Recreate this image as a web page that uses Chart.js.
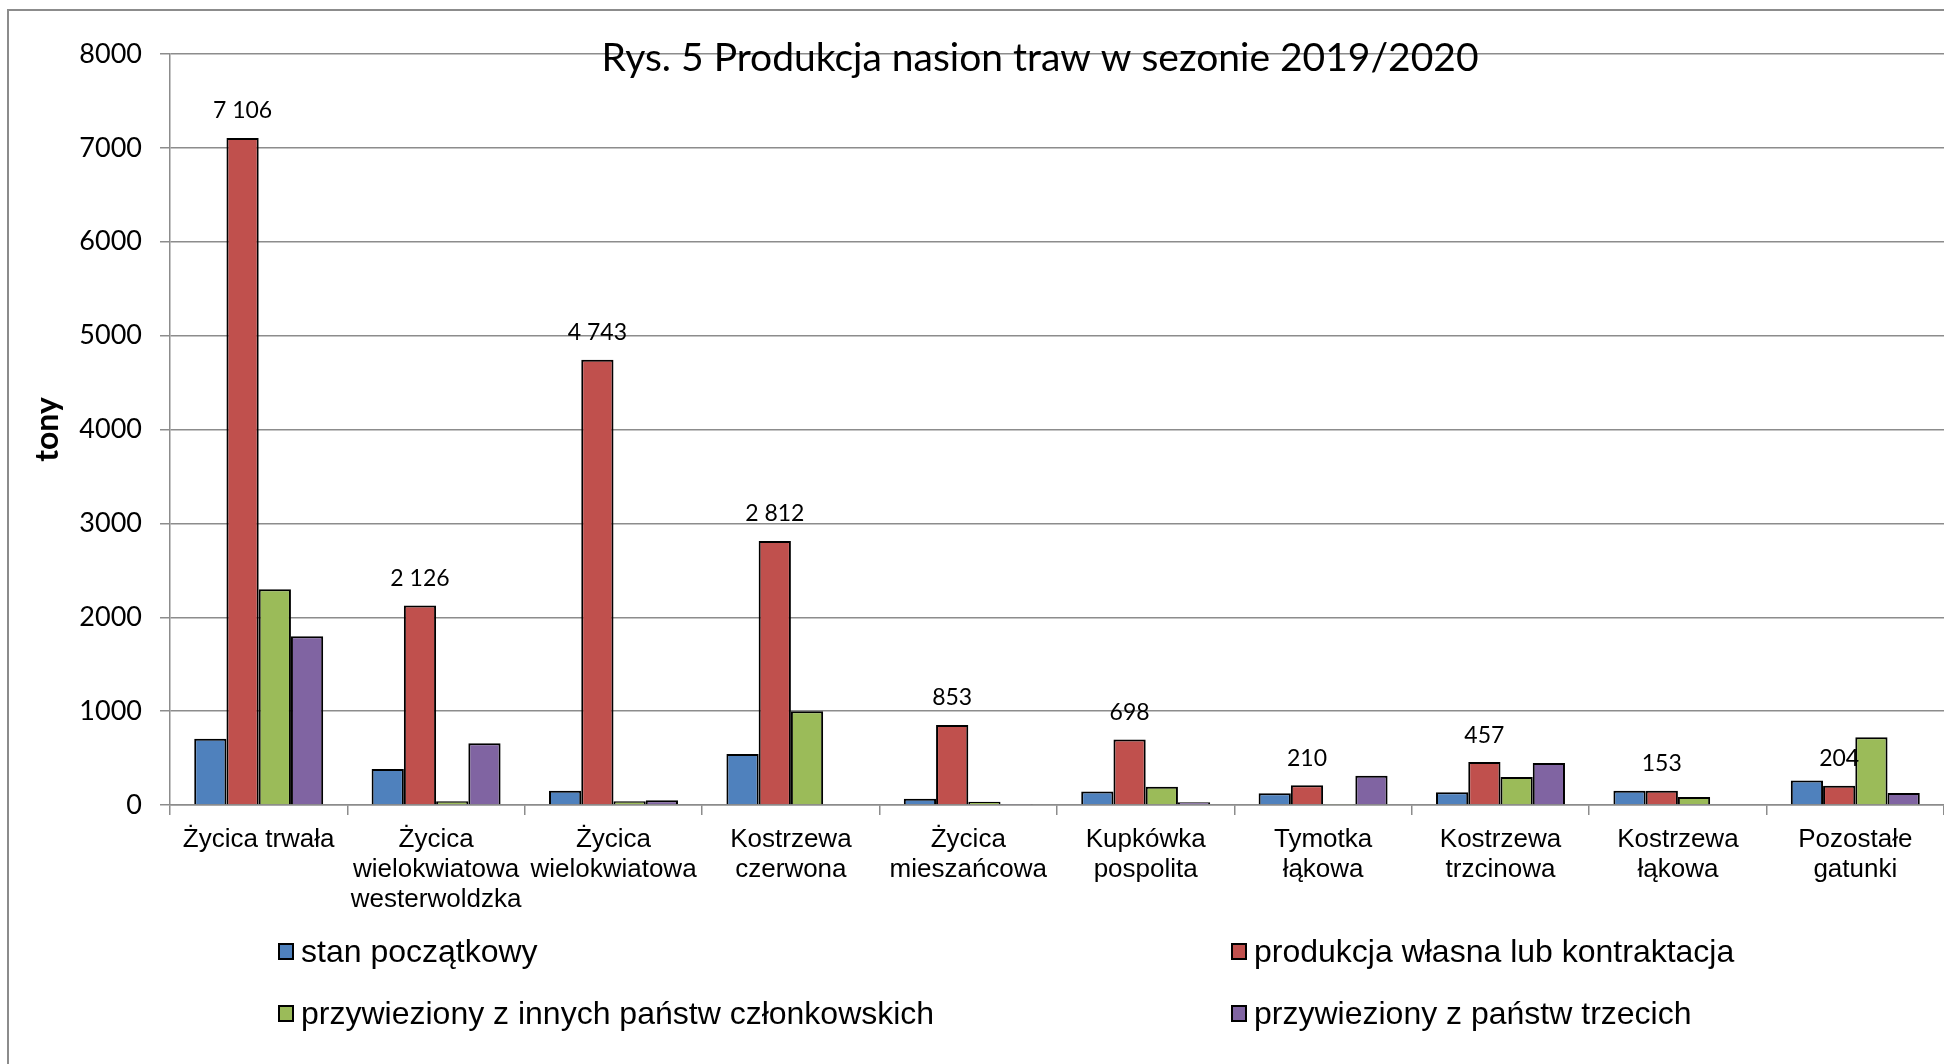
<!DOCTYPE html>
<html lang="pl">
<head>
<meta charset="utf-8">
<title>Produkcja nasion traw 2019/2020</title>
<script src="https://cdn.jsdelivr.net/npm/chart.js@4.4.1/dist/chart.umd.min.js"></script>
<style>
  html, body { margin: 0; padding: 0; background: #fff; }
  #wrap { position: relative; width: 1944px; height: 1064px; overflow: hidden; background: #fff; }
  #frame { position: absolute; left: 7px; top: 9px; width: 3000px; height: 3000px;
           border: 2px solid #8c8c8c; box-sizing: border-box; }
  #myChart { position: absolute; left: 0; top: 0; }
  #legend { position: absolute; left: 278px; top: 931px; display: grid;
            grid-template-columns: 953px auto; row-gap: 22px;
            font: 32px "Liberation Sans", Arial, sans-serif; color: #000; }
  #legend .item { display: flex; align-items: center; height: 40px; white-space: nowrap; }
  #legend .box { width: 16px; height: 17px; box-sizing: border-box; border: 2px solid #000;
                 margin-right: 7px; }
</style>
</head>
<body>
<div id="wrap">
  <div id="frame"></div>
  <canvas id="myChart" width="1944" height="1064"></canvas>
  <div id="legend"></div>
</div>
<script>
const chartTitle = "Rys. 5 Produkcja nasion traw w sezonie 2019/2020";

const categories = [
  "Życica trwała",
  ["Życica", "wielokwiatowa", "westerwoldzka"],
  ["Życica", "wielokwiatowa"],
  ["Kostrzewa", "czerwona"],
  ["Życica", "mieszańcowa"],
  ["Kupkówka", "pospolita"],
  ["Tymotka", "łąkowa"],
  ["Kostrzewa", "trzcinowa"],
  ["Kostrzewa", "łąkowa"],
  ["Pozostałe", "gatunki"]
];

const seriesNames = [
  "stan początkowy",
  "produkcja własna lub kontraktacja",
  "przywieziony z innych państw członkowskich",
  "przywieziony z państw trzecich"
];

// tony
const stanPoczatkowy = [707, 384, 153, 543, 67, 145, 124, 135, 152, 262];
const produkcjaWlasna = [7106, 2126, 4743, 2812, 853, 698, 210, 457, 153, 204];
const zPanstwCzlonkowskich = [2298, 39, 39, 1000, 35, 195, 5, 298, 85, 723];
const zPanstwTrzecich = [1797, 657, 50, null, 5, 28, 312, 447, null, 128];

const yMin = 0;
const yMax = 8000;
const yStep = 1000;

const colors = ["#4f81bd", "#c0504d", "#9bbb59", "#8064a2"];
const gridColor = "#8c8c8c";

// 7106 -> "7 106"
function fmt(v) {
  return String(v).replace(/\B(?=(\d{3})+(?!\d))/g, " ");
}

// value labels above the red bars
const valueLabels = {
  id: "valueLabels",
  afterDatasetsDraw(chart) {
    const ctx = chart.ctx;
    const meta = chart.getDatasetMeta(1);
    ctx.save();
    ctx.font = "23px Lato, 'Open Sans', sans-serif";
    ctx.fillStyle = "#000";
    ctx.textAlign = "center";
    ctx.textBaseline = "middle";
    meta.data.forEach((bar, i) => {
      ctx.fillText(fmt(produkcjaWlasna[i]), bar.x, bar.y - 27);
    });
    ctx.restore();
  }
};

// title sits over the plot, on top of the gridlines
const overlayTitle = {
  id: "overlayTitle",
  afterDraw(chart) {
    const ctx = chart.ctx;
    ctx.save();
    ctx.font = "39px Lato, 'Open Sans', sans-serif";
    ctx.fillStyle = "#000";
    ctx.textAlign = "center";
    ctx.textBaseline = "middle";
    ctx.fillText(chartTitle, 1040, 58);
    ctx.restore();
  }
};

// legend in two columns below the axis
const htmlLegend = {
  id: "htmlLegend",
  afterUpdate(chart) {
    const el = document.getElementById("legend");
    el.innerHTML = "";
    const items = chart.options.plugins.legend.labels.generateLabels(chart);
    items.forEach((it) => {
      const row = document.createElement("div");
      row.className = "item";
      const box = document.createElement("span");
      box.className = "box";
      box.style.background = it.fillStyle;
      const txt = document.createElement("span");
      txt.textContent = it.text;
      row.appendChild(box);
      row.appendChild(txt);
      el.appendChild(row);
    });
  }
};

const seriesData = [stanPoczatkowy, produkcjaWlasna, zPanstwCzlonkowskich, zPanstwTrzecich];

const ctx = document.getElementById("myChart").getContext("2d");
const myChart = new Chart(ctx, {
  type: "bar",
  data: {
    labels: categories,
    datasets: seriesNames.map((name, i) => ({
      label: name,
      data: seriesData[i],
      backgroundColor: colors[i],
      borderColor: "#000",
      borderWidth: 2,
      barPercentage: 1,
      categoryPercentage: 0.727
    }))
  },
  options: {
    responsive: false,
    animation: false,
    layout: { padding: { left: 0, top: 54, right: 0, bottom: 0 } },
    plugins: {
      legend: { display: false },
      title: { display: false },
      tooltip: { enabled: false }
    },
    scales: {
      x: {
        grid: {
          drawOnChartArea: false,
          drawTicks: true,
          tickLength: 10,
          color: gridColor,
          lineWidth: 1.5
        },
        border: { color: gridColor, width: 1.5 },
        ticks: {
          color: "#000",
          font: { family: "'Liberation Sans', Arial, sans-serif", size: 26, lineHeight: 1.15 },
          padding: 10,
          maxRotation: 0,
          autoSkip: false
        },
        afterFit(scale) { scale.height = 259; }
      },
      y: {
        min: yMin,
        max: yMax,
        ticks: {
          stepSize: yStep,
          color: "#000",
          font: { family: "Lato, 'Open Sans', sans-serif", size: 27 },
          padding: 18,
          callback: (v) => String(v)
        },
        grid: {
          color: gridColor,
          lineWidth: 1.5,
          tickLength: 10
        },
        border: { color: gridColor, width: 1.5 },
        title: {
          display: true,
          text: "tony",
          color: "#000",
          font: { family: "Lato, 'Open Sans', sans-serif", size: 32, weight: "bold" },
          padding: { top: 28, bottom: 0 }
        },
        afterFit(scale) { scale.width = 170; }
      }
    }
  },
  plugins: [valueLabels, overlayTitle, htmlLegend]
});
</script>
</body>
</html>
